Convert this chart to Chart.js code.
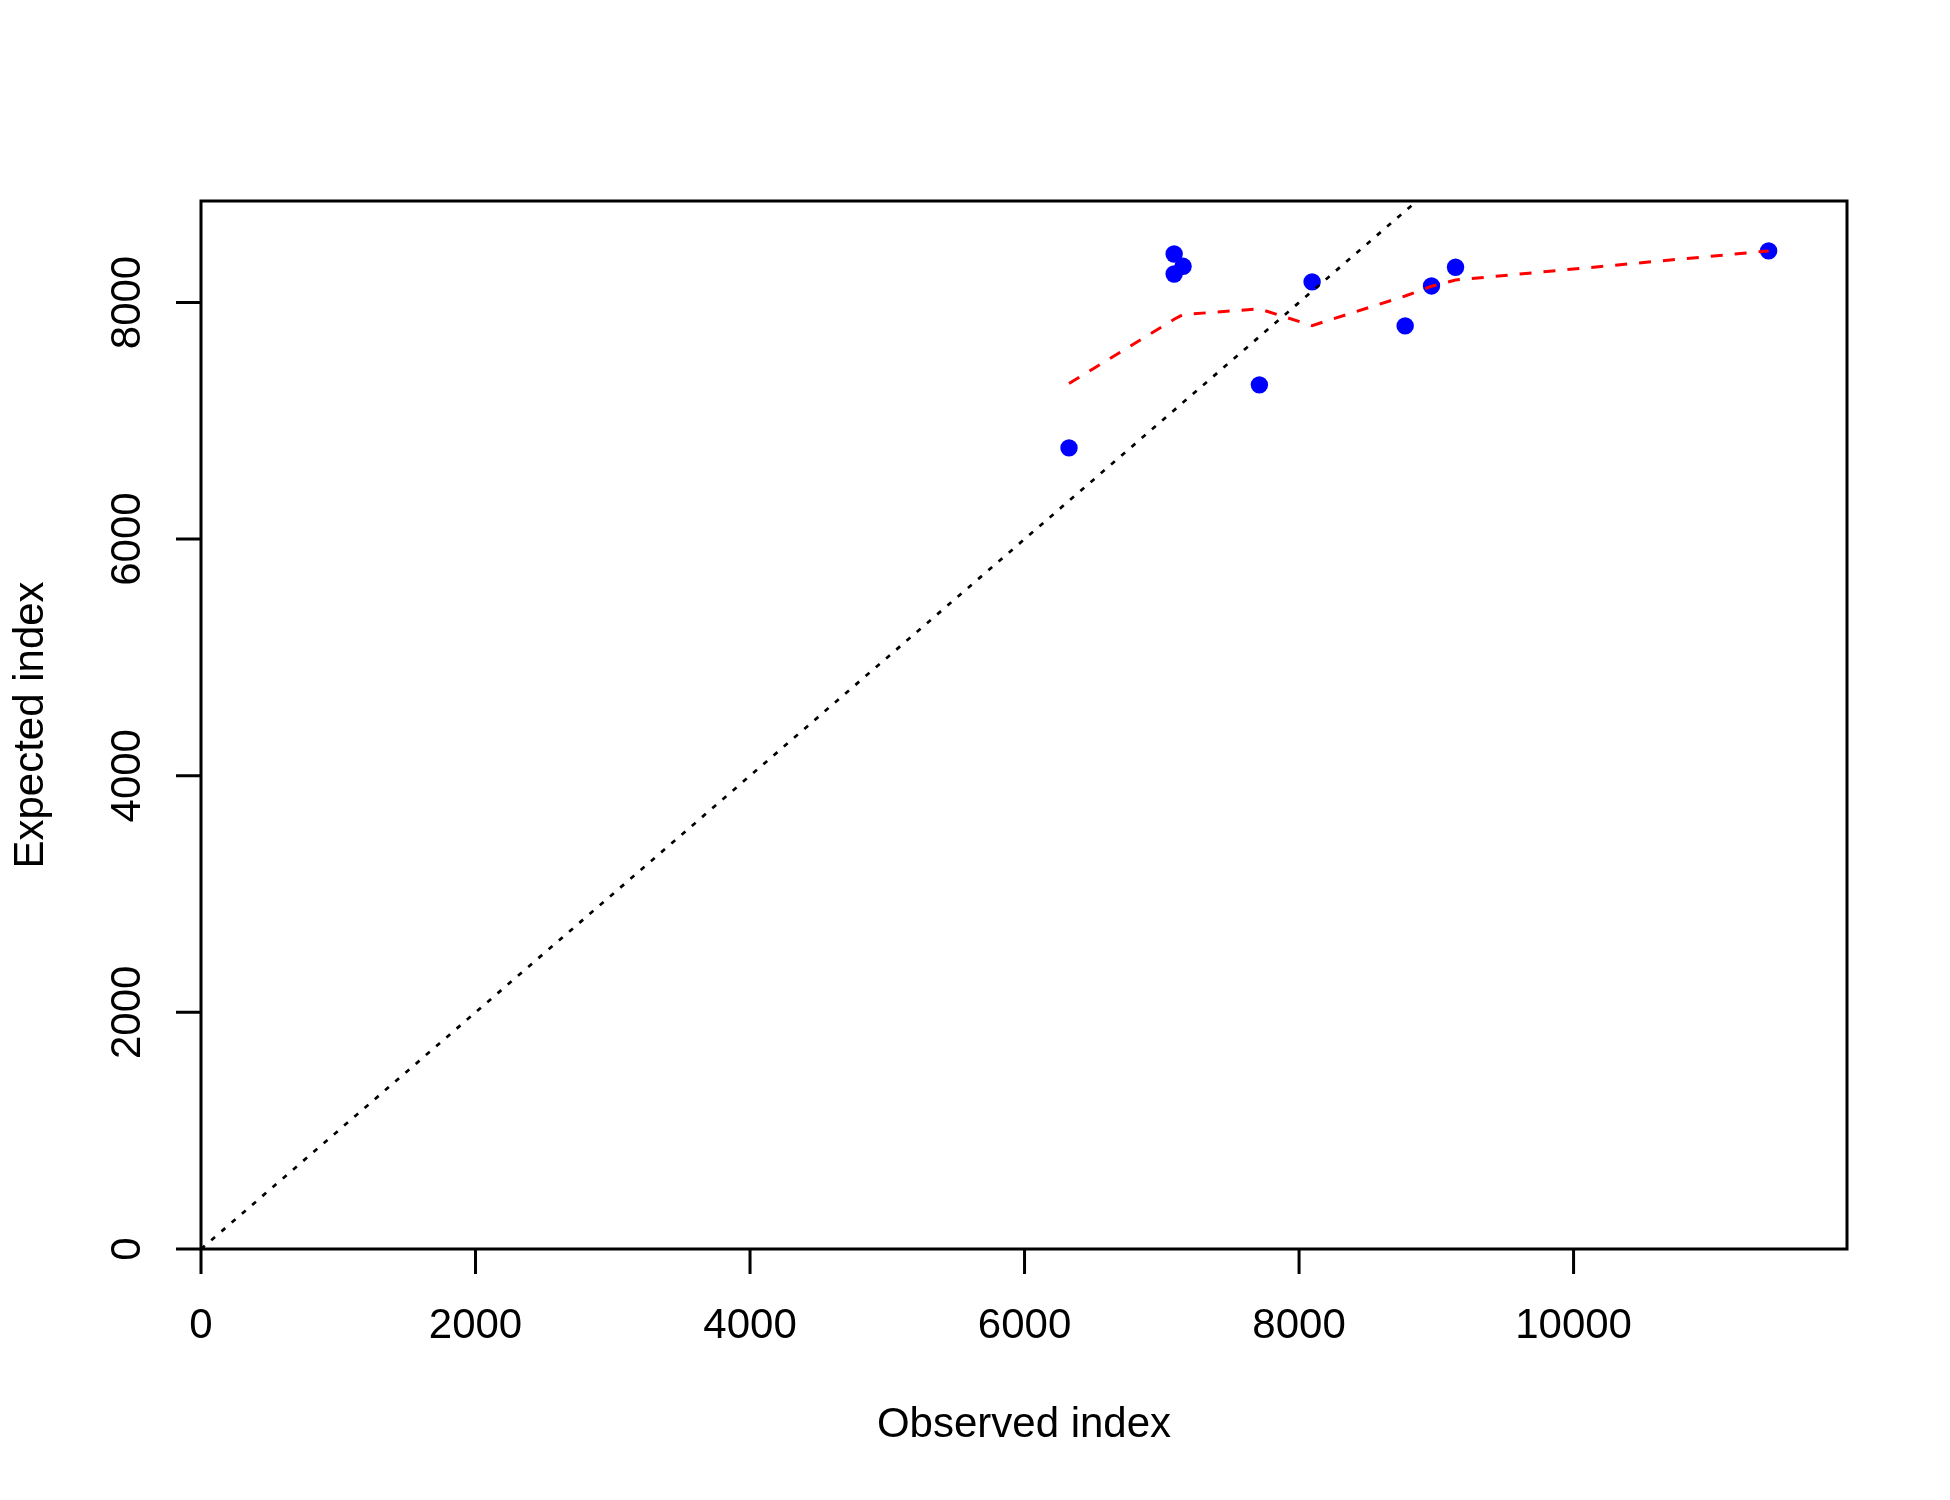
<!DOCTYPE html>
<html>
<head>
<meta charset="utf-8">
<script src="https://cdn.jsdelivr.net/npm/chart.js@4"></script>
<style>
  html, body { margin: 0; padding: 0; background: #ffffff; }
  #wrap { width: 1950px; height: 1500px; }
</style>
</head>
<body>
<div id="wrap"><canvas id="c" width="1950" height="1500"></canvas></div>
<script>
// Observed vs expected index values
const observed = [6324, 7090, 7155, 7090, 8095, 7711, 8773, 8965, 9140, 11421];
const expected = [6771, 8410, 8306, 8241, 8174, 7304, 7802, 8140, 8298, 8436];
const smoothX = [6324, 7090, 7155, 7711, 8095, 8773, 8965, 9140, 11421];
const smoothY = [7315, 7858, 7898, 7946, 7805, 8055, 8137, 8190, 8436];
// Axis ticks
const xTicks = [0, 2000, 4000, 6000, 8000, 10000];
const yTicks = [0, 2000, 4000, 6000, 8000];
const xTitle = "Observed index";
const yTitle = "Expected index";

const xMax = Math.max(...observed) * 1.05;
const yMax = Math.max(...expected) * 1.05;

const FONT = '42px "Liberation Sans", Arial, sans-serif';

const axesPlugin = {
  id: 'rAxes',
  afterDraw(chart) {
    const ctx = chart.ctx;
    const xs = chart.scales.x, ys = chart.scales.y;
    const a = chart.chartArea;
    ctx.save();
    ctx.strokeStyle = '#000';
    ctx.fillStyle = '#000';
    ctx.lineWidth = 3;
    ctx.lineCap = 'butt';
    ctx.setLineDash([]);
    // box
    ctx.strokeRect(a.left, a.top, a.right - a.left, a.bottom - a.top);
    // x ticks
    ctx.font = FONT;
    ctx.textAlign = 'center';
    ctx.textBaseline = 'middle';
    ctx.beginPath();
    xTicks.forEach(v => {
      const px = xs.getPixelForValue(v);
      ctx.moveTo(px, a.bottom);
      ctx.lineTo(px, a.bottom + 25);
    });
    ctx.stroke();
    xTicks.forEach(v => {
      const px = xs.getPixelForValue(v);
      ctx.fillText(String(v), px, a.bottom + 77);
    });
    // y ticks
    ctx.beginPath();
    yTicks.forEach(v => {
      const py = ys.getPixelForValue(v);
      ctx.moveTo(a.left, py);
      ctx.lineTo(a.left - 25, py);
    });
    ctx.stroke();
    yTicks.forEach(v => {
      const py = ys.getPixelForValue(v);
      ctx.save();
      ctx.translate(a.left - 73, py);
      ctx.rotate(-Math.PI / 2);
      ctx.fillText(String(v), 0, 0);
      ctx.restore();
    });
    // titles
    ctx.fillText(xTitle, (a.left + a.right) / 2, a.bottom + 176);
    ctx.save();
    ctx.translate(31, (a.top + a.bottom) / 2);
    ctx.rotate(-Math.PI / 2);
    ctx.fillText(yTitle, 0, 0);
    ctx.restore();
    ctx.restore();
  }
};

new Chart(document.getElementById('c'), {
  type: 'scatter',
  data: {
    datasets: [
      {
        label: 'identity',
        data: [{x: 0, y: 0}, {x: 20000, y: 20000}],
        showLine: true,
        borderColor: '#000000',
        borderWidth: 2.7,
        borderDash: [5, 8.5],
        pointRadius: 0,
        fill: false
      },
      {
        label: 'smooth',
        data: smoothX.map((x, i) => ({x: x, y: smoothY[i]})),
        showLine: true,
        borderColor: '#ff0000',
        borderWidth: 3,
        borderDash: [12, 12],
        pointRadius: 0,
        tension: 0,
        fill: false
      },
      {
        label: 'points',
        data: observed.map((x, i) => ({x: x, y: expected[i]})),
        showLine: false,
        pointRadius: 8.7,
        pointBackgroundColor: '#0000ff',
        pointBorderColor: '#0000ff',
        pointBorderWidth: 0
      }
    ]
  },
  options: {
    responsive: false,
    animation: false,
    devicePixelRatio: 1,
    layout: { padding: { left: 201, top: 201, right: 103, bottom: 251 } },
    plugins: { legend: { display: false }, tooltip: { enabled: false } },
    scales: {
      x: { type: 'linear', min: 0, max: xMax, display: false },
      y: { type: 'linear', min: 0, max: yMax, display: false }
    }
  },
  plugins: [axesPlugin]
});
</script>
</body>
</html>
